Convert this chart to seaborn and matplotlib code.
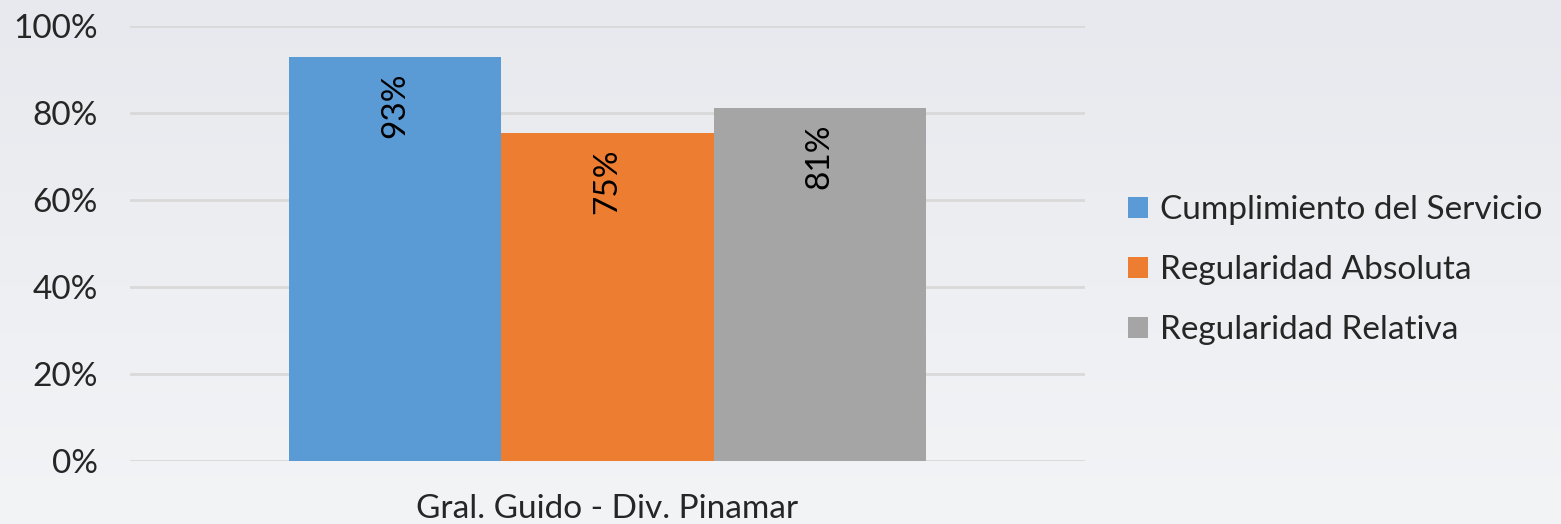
import numpy as np
import pandas as pd
import matplotlib
matplotlib.use("Agg")
import matplotlib.pyplot as plt
import seaborn as sns
from matplotlib.patches import Patch

# Data
categories = ["Gral. Guido - Div. Pinamar"]
series = ["Cumplimiento del Servicio", "Regularidad Absoluta", "Regularidad Relativa"]
values = [0.929, 0.754, 0.811]
colors = ["#5B9BD5", "#ED7D31", "#A5A5A5"]
yticks = [0, 0.2, 0.4, 0.6, 0.8, 1.0]
ytick_labels = ["0%", "20%", "40%", "60%", "80%", "100%"]

df = pd.DataFrame({
    "categoria": categories * len(series),
    "serie": series,
    "valor": values,
})

sns.set_theme(style="white")
plt.rcParams["font.family"] = ["Lato", "DejaVu Sans"]

W, H, DPI = 1561, 524, 100
fig = plt.figure(figsize=(W / DPI, H / DPI), dpi=DPI)

# Soft vertical gradient behind everything
bg = fig.add_axes([0, 0, 1, 1], zorder=-10)
grad = np.linspace(0, 1, 256).reshape(-1, 1)
cmap = matplotlib.colors.LinearSegmentedColormap.from_list("bg", ["#f3f4f6", "#e8e9ee"])
bg.imshow(grad, aspect="auto", cmap=cmap, origin="lower", extent=[0, 1, 0, 1])
bg.axis("off")

ax = fig.add_axes([130 / W, 1 - 461 / H, (1085 - 130) / W, (461 - 26) / H])
ax.patch.set_alpha(0)

sns.barplot(data=df, x="categoria", y="valor", hue="serie", palette=colors,
            hue_order=series, width=0.666, ax=ax, legend=False,
            saturation=1, edgecolor="none", zorder=3)

ax.set_xlim(-0.5, 0.5)
ax.set_ylim(0, 1.0)
ax.set_yticks(yticks)
ax.set_yticklabels(ytick_labels, fontsize=24)
ax.tick_params(axis="y", length=0, pad=23)
ax.tick_params(axis="x", length=0, pad=24, labelsize=24)
ax.set_xlabel("")
ax.set_ylabel("")
for s in ax.spines.values():
    s.set_visible(False)
ax.grid(axis="y", color="#d9d9d9", linewidth=2, zorder=0)
ax.set_axisbelow(True)

# Rotated value labels inside the top of each bar
for cont in ax.containers:
    for bar in cont:
        h = bar.get_height()
        ax.annotate(f"{h * 100:.0f}%", (bar.get_x() + bar.get_width() / 2, h),
                    xytext=(0, -11), textcoords="offset points",
                    rotation=90, ha="center", va="top", fontsize=24, color="black",
                    zorder=5)

handles = [Patch(facecolor=c, edgecolor="none") for c in colors]
fig.legend(handles, series, loc="center left", bbox_to_anchor=(1128 / W, 1 - 270 / H),
           frameon=False, fontsize=24, handlelength=0.6, handleheight=0.6,
           handletextpad=0.35, labelspacing=0.9, borderaxespad=0, borderpad=0)

fig.savefig("out.png", dpi=DPI)
